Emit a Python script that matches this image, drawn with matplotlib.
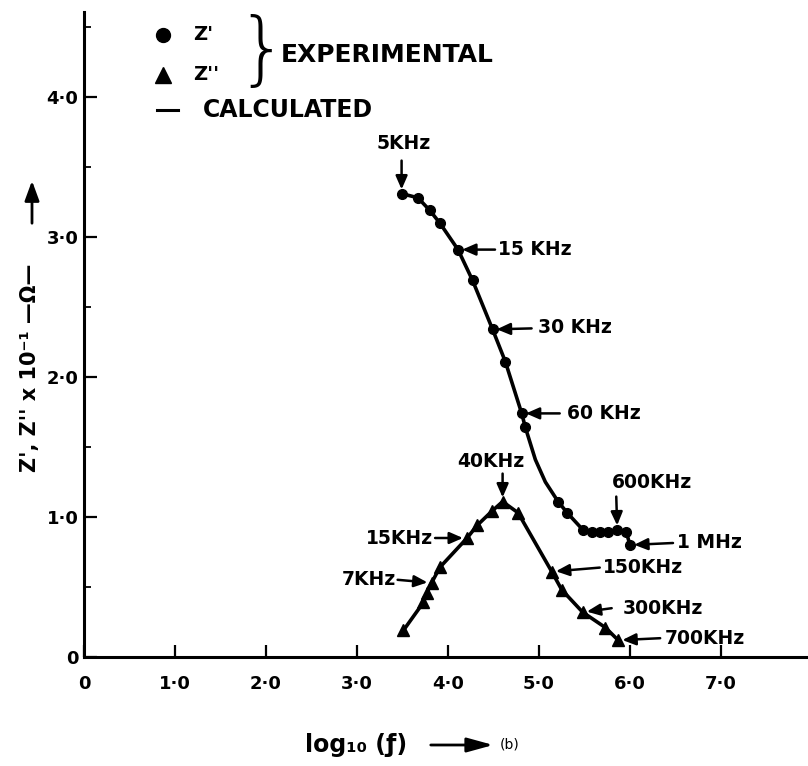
import matplotlib
matplotlib.use("Agg")
import matplotlib.pyplot as plt
from matplotlib.lines import Line2D
from matplotlib.patches import FancyArrowPatch

# ---------------- data ----------------
zp_x = [3.49, 3.67, 3.80, 3.91, 4.11, 4.27, 4.49, 4.63, 4.81, 4.85,
        5.21, 5.31, 5.48, 5.58, 5.67, 5.76, 5.86, 5.96, 6.00]
zp_y = [3.31, 3.28, 3.19, 3.10, 2.91, 2.69, 2.34, 2.11, 1.74, 1.64,
        1.11, 1.03, 0.91, 0.89, 0.89, 0.89, 0.91, 0.89, 0.80]

zpp_x = [3.51, 3.73, 3.77, 3.82, 3.91, 4.21, 4.32, 4.48, 4.60, 4.77,
         5.14, 5.25, 5.48, 5.73, 5.87]
zpp_y = [0.19, 0.39, 0.46, 0.53, 0.64, 0.85, 0.94, 1.04, 1.11, 1.03,
         0.61, 0.48, 0.32, 0.21, 0.12]

# calculated curves
calc_zp_x = [3.49, 3.67, 3.80, 3.91, 4.11, 4.27, 4.49, 4.63, 4.81, 4.85,
             4.96, 5.07, 5.21, 5.31, 5.48, 5.58, 5.67, 5.76, 5.86, 5.96, 6.00]
calc_zp_y = [3.31, 3.28, 3.19, 3.10, 2.91, 2.69, 2.34, 2.11, 1.74, 1.64,
             1.41, 1.25, 1.11, 1.03, 0.91, 0.89, 0.89, 0.89, 0.91, 0.89, 0.80]
calc_zpp_x = [3.51, 3.73, 3.77, 3.82, 3.91, 4.21, 4.32, 4.48, 4.60, 4.77,
              5.14, 5.25, 5.48, 5.73, 5.87]
calc_zpp_y = [0.19, 0.39, 0.46, 0.53, 0.64, 0.85, 0.94, 1.04, 1.11, 1.03,
              0.61, 0.48, 0.32, 0.21, 0.12]

x_ticks = [0, 1, 2, 3, 4, 5, 6, 7]
x_ticklabels = ["0", "1·0", "2·0", "3·0", "4·0", "5·0", "6·0", "7·0"]
y_ticks = [0, 1, 2, 3, 4]
y_ticklabels = ["0", "1·0", "2·0", "3·0", "4·0"]
y_minor = [0.5, 1.5, 2.5, 3.5, 4.5]

# frequency labels: (point index, label)
zp_labels = [(0, "5KHz"), (4, "15 KHz"), (6, "30 KHz"), (8, "60 KHz"),
             (16, "600KHz"), (18, "1 MHz")]
zpp_labels = [(3, "7KHz"), (5, "15KHz"), (8, "40KHz"), (10, "150KHz"),
              (12, "300KHz"), (14, "700KHz")]

# ---------------- figure ----------------
W, H = 808, 766
fig = plt.figure(figsize=(W / 100, H / 100), dpi=100)
ax = fig.add_axes([84 / W, 1 - 657 / H, (W - 84) / W, (657 - 12) / H])
ax.set_xlim(0, 724 / 91)
ax.set_ylim(0, 645 / 140)

for s in ["top", "right"]:
    ax.spines[s].set_visible(False)
for s in ["left", "bottom"]:
    ax.spines[s].set_linewidth(2.2)

ax.set_xticks(x_ticks)
ax.set_xticklabels(x_ticklabels)
ax.set_yticks(y_ticks)
ax.set_yticklabels(y_ticklabels)
ax.set_yticks(y_minor, minor=True)
ax.tick_params(axis="x", direction="in", length=9, width=1.6, pad=13,
               labelsize=13)
ax.tick_params(axis="y", direction="in", length=9, width=1.6, pad=4,
               labelsize=13)
ax.tick_params(axis="y", which="minor", direction="in", length=5, width=1.3)
for lab in ax.get_xticklabels() + ax.get_yticklabels():
    lab.set_fontweight("bold")

# calculated lines
ax.plot(calc_zp_x, calc_zp_y, color="black", lw=2.6, solid_capstyle="round",
        solid_joinstyle="round", zorder=2)
ax.plot(calc_zpp_x, calc_zpp_y, color="black", lw=2.6, solid_capstyle="round",
        solid_joinstyle="round", zorder=2)
# experimental points
ax.plot(zp_x, zp_y, ls="none", marker="o", ms=7, color="black", zorder=3)
ax.plot(zpp_x, zpp_y, ls="none", marker="^", ms=9, color="black", zorder=3)

# annotation geometry: (tail offset px, text offset px, ha)
zp_geom = {
    0: ((0, 33), (2, 50), "center"),
    4: ((37, 0), (40, 0), "left"),
    6: ((39, 1), (45, 2), "left"),
    8: ((38, 0), (45, 0), "left"),
    16: ((-1, 33), (35, 47), "center"),
    18: ((43, 2), (47, 3), "left"),
}
zpp_geom = {
    3: ((-34, 3), (-36, 3), "right"),
    5: ((-32, 0), (-34, 0), "right"),
    8: ((0, 28), (-12, 40), "center"),
    10: ((48, 4), (51, 4), "left"),
    12: ((29, 4), (40, 4), "left"),
    14: ((42, 2), (47, 2), "left"),
}
arrowprops = dict(arrowstyle="-|>,head_length=0.8,head_width=0.35",
                  color="black", lw=1.8, shrinkA=0, shrinkB=3)


def label_points(xs, ys, labels, geom):
    for idx, text in labels:
        tail, toff, ha = geom[idx]
        pt = (xs[idx], ys[idx])
        ax.annotate("", xy=pt, xytext=tail, textcoords="offset pixels",
                    arrowprops=arrowprops, zorder=4)
        ax.annotate(text, xy=pt, xytext=toff, textcoords="offset pixels",
                    ha=ha, va="center", fontsize=13.5, fontweight="bold",
                    zorder=4)


label_points(zp_x, zp_y, zp_labels, zp_geom)
label_points(zpp_x, zpp_y, zpp_labels, zpp_geom)


# ---------------- legend (hand-drawn style) ----------------
def fx(px):
    return px / W


def fy(py):
    return 1 - py / H


fig.add_artist(Line2D([fx(163)], [fy(35)], marker="o", ms=10, color="black",
                      ls="none"))
fig.add_artist(Line2D([fx(163)], [fy(75)], marker="^", ms=11, color="black",
                      ls="none"))
fig.add_artist(Line2D([fx(157), fx(178)], [fy(110), fy(110)], color="black",
                      lw=2.2))
fig.text(fx(193), fy(35), "Z'", fontsize=14, fontweight="bold", va="center")
fig.text(fx(193), fy(74), "Z''", fontsize=14, fontweight="bold", va="center")
fig.text(fx(262), fy(53), "}", fontsize=58, va="center", ha="center",
         fontweight="light")
fig.text(fx(281), fy(55), "EXPERIMENTAL", fontsize=18, fontweight="bold",
         va="center")
fig.text(fx(203), fy(110), "CALCULATED", fontsize=17, fontweight="bold",
         va="center")

# ---------------- axis titles ----------------
fig.text(fx(30), fy(368), "Z', Z'' x 10⁻¹ —Ω—", rotation=90, fontsize=15,
         fontweight="bold", ha="center", va="center")
fig.add_artist(FancyArrowPatch((fx(32), fy(226)), (fx(32), fy(178)),
                               transform=fig.transFigure,
                               arrowstyle="-|>,head_length=0.6,head_width=0.22",
                               mutation_scale=20, color="black", lw=2))

fig.text(fx(305), fy(745), "log₁₀ (ƒ)", fontsize=17, fontweight="bold",
         va="center", ha="left")
fig.add_artist(FancyArrowPatch((fx(428), fy(745)), (fx(496), fy(745)),
                               transform=fig.transFigure,
                               arrowstyle="-|>,head_length=0.8,head_width=0.22",
                               mutation_scale=20, color="black", lw=2))
fig.text(fx(500), fy(745), "(b)", fontsize=10, va="center", ha="left")

fig.savefig("out.png", dpi=100)
